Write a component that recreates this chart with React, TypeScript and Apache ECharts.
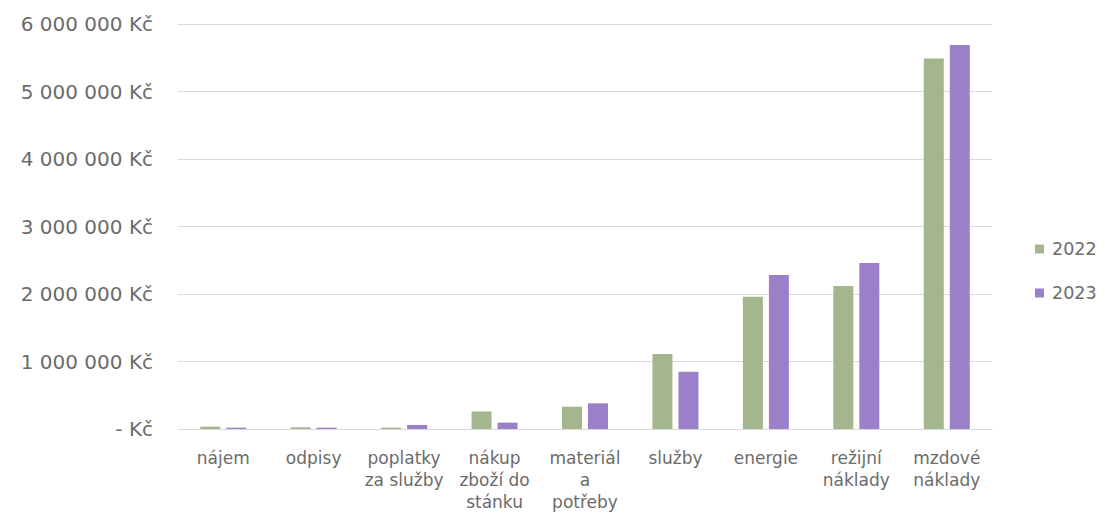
import React, { useEffect, useRef } from "react";
import * as echarts from "echarts";

// Cost categories (label line breaks as shown under the axis)
const categories = [
  "nájem",
  "odpisy",
  "poplatky\nza služby",
  "nákup\nzboží do\nstánku",
  "materiál\na\npotřeby",
  "služby",
  "energie",
  "režijní\nnáklady",
  "mzdové\nnáklady",
];

const years = ["2022", "2023"];

// Costs in Kč
const values2022 = [35000, 25000, 20000, 260000, 330000, 1110000, 1960000, 2120000, 5490000];
const values2023 = [20000, 20000, 60000, 95000, 380000, 850000, 2280000, 2460000, 5690000];

const yTicks = [0, 1000000, 2000000, 3000000, 4000000, 5000000, 6000000];

const GREEN = "#a4b68d";
const PURPLE = "#9b80c9";
const TEXT = "#6b6b6b";
const FONT = "DejaVu Sans";

function formatKc(v: number): string {
  if (v === 0) return "- Kč";
  const s = Math.round(v).toString().replace(/\B(?=(\d{3})+(?!\d))/g, " ");
  return s + " Kč";
}

export default function App() {
  const ref = useRef<HTMLDivElement>(null);

  useEffect(() => {
    if (!ref.current) return;
    const chart = echarts.init(ref.current, null, { renderer: "svg" });
    chart.setOption({
      animation: false,
      backgroundColor: "#ffffff",
      textStyle: { fontFamily: FONT },
      grid: { left: 178, right: 113, top: 24, bottom: 91, containLabel: false },
      legend: {
        orient: "vertical",
        left: 1030,
        top: 235,
        itemWidth: 9,
        itemHeight: 9,
        itemGap: 26,
        icon: "rect",
        data: years,
        textStyle: { color: TEXT, fontSize: 17.5, fontFamily: FONT, padding: [0, 0, 0, 3] },
      },
      xAxis: {
        type: "category",
        data: categories,
        axisTick: { show: false },
        axisLine: { lineStyle: { color: "#d9d9d9", width: 1 } },
        axisLabel: {
          interval: 0,
          color: TEXT,
          fontSize: 17,
          fontFamily: FONT,
          lineHeight: 22,
          margin: 18,
        },
      },
      yAxis: {
        type: "value",
        min: yTicks[0],
        max: yTicks[yTicks.length - 1],
        interval: yTicks[1] - yTicks[0],
        axisLine: { show: false },
        axisTick: { show: false },
        splitLine: { lineStyle: { color: "#d9d9d9", width: 1 } },
        axisLabel: {
          color: TEXT,
          fontSize: 20,
          fontFamily: FONT,
          margin: 25,
          formatter: (v: number) => formatKc(v),
        },
      },
      series: [
        {
          name: years[0],
          type: "bar",
          data: values2022,
          barWidth: 20,
          barGap: "30%",
          itemStyle: { color: GREEN },
        },
        {
          name: years[1],
          type: "bar",
          data: values2023,
          barWidth: 20,
          barGap: "30%",
          itemStyle: { color: PURPLE },
        },
      ],
    });
    return () => chart.dispose();
  }, []);

  return (
    <div
      ref={ref}
      style={{ position: "fixed", left: 0, top: 0, width: 1105, height: 520, background: "#fff" }}
    />
  );
}
